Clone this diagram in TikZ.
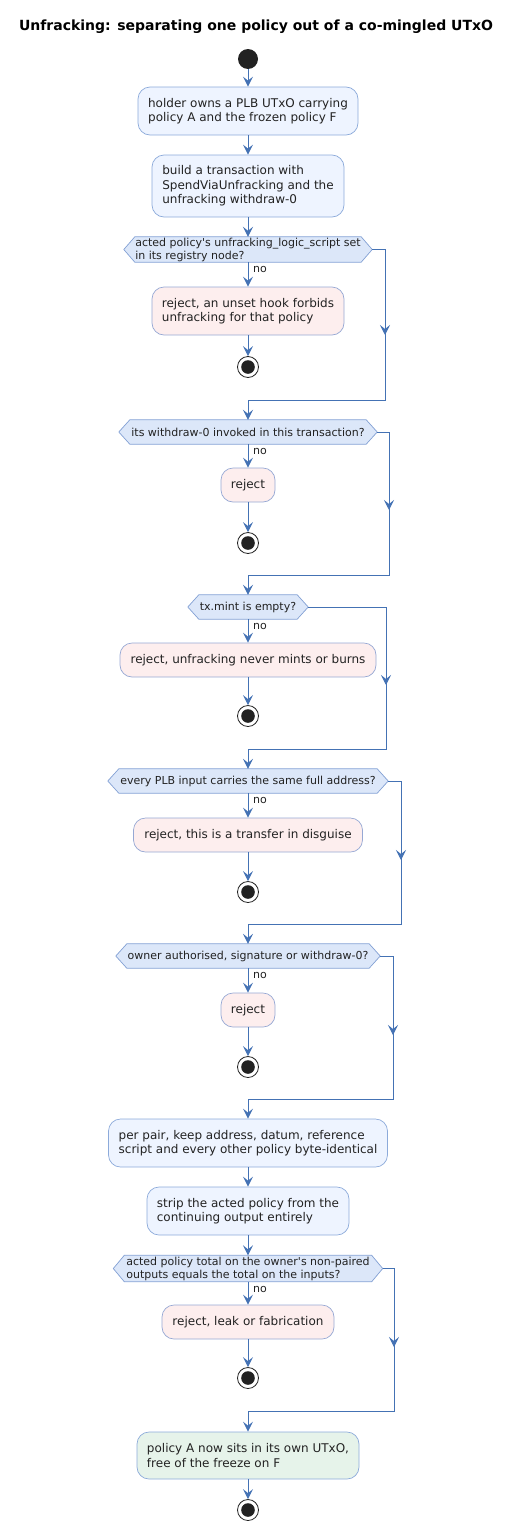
\documentclass[tikz,border=0pt]{standalone}
\usepackage{fontspec}
\setmainfont{DejaVu Sans}
\usetikzlibrary{arrows.meta,backgrounds,calc}
\definecolor{lnc}{RGB}{68,114,180}
\definecolor{actf}{RGB}{238,244,255}
\definecolor{actb}{RGB}{140,170,218}
\definecolor{rejf}{RGB}{253,238,238}
\definecolor{rejb}{RGB}{150,168,212}
\definecolor{dfill}{RGB}{220,231,249}
\definecolor{dbord}{RGB}{130,160,212}
\definecolor{okf}{RGB}{230,243,234}
\definecolor{dark}{RGB}{34,34,34}
\newcommand\hexa[1]{\begin{pgfonlayer}{background}\draw[dshape] (#1.west) -- ([xshift=11pt]#1.north west) -- ([xshift=-11pt]#1.north east) -- (#1.east) -- ([xshift=-11pt]#1.south east) -- ([xshift=11pt]#1.south west) -- cycle;\end{pgfonlayer}}
\begin{document}
\begin{tikzpicture}[x=1pt,y=-1pt,
  box/.style={rounded corners=12pt, line width=0.7pt, align=left, inner sep=0pt,
    font=\fontsize{12}{14.5}\selectfont, text=dark},
  act/.style={box, draw=actb, fill=actf},
  rej/.style={box, draw=rejb, fill=rejf},
  okb/.style={box, draw=actb, fill=okf},
  sz/.style 2 args={minimum width=#1pt, minimum height=#2pt},
  dia/.style={inner sep=0pt, align=left, font=\fontsize{11}{13}\selectfont, text=dark},
  dshape/.style={draw=dbord, fill=dfill, line width=0.7pt},
  flow/.style={draw=lnc, line width=1pt, -{Stealth[length=10pt,width=10pt,inset=4pt]}},
  seg/.style={draw=lnc, line width=1pt},
  lbl/.style={font=\fontsize{11}{13}\selectfont, text=dark, inner sep=0pt, anchor=west},
  startc/.style={circle, fill=dark, minimum size=20pt, inner sep=0pt},
  endc/.style={circle, draw=dark, fill=white, minimum size=21pt, inner sep=0pt, line width=0.8pt,
    path picture={\fill[dark] (path picture bounding box.center) circle (6.8pt);}},
]
\useasboundingbox (0,0) rectangle (514,1531);
\node[font=\fontsize{14}{16}\selectfont\bfseries, text=black] (title) at (256,27) {Unfracking: separating one policy out of a co-mingled UTxO};

\node[startc] (s0) at (248,59) {};
\node[act, sz={220}{48}] (b1) at (248,111) {holder owns a PLB UTxO carrying\\policy A and the frozen policy F};
\node[act, sz={192}{62}] (b2) at (248,186) {build a transaction with\\SpendViaUnfracking and the\\unfracking withdraw-0};

\node[dia, sz={248}{25}] (d1) at (248,249.5) {acted policy\textquotesingle s unfracking\_logic\_script set\\in its registry node?};
\hexa{d1}
\node[rej, sz={192}{48}] (r1) at (248,311) {reject, an unset hook forbids\\unfracking for that policy};
\node[endc] (e1) at (248,367) {};

\node[dia, sz={258}{24}] (d2) at (248,432) {its withdraw-0 invoked in this transaction?};
\hexa{d2}
\node[rej, sz={54}{34}] (r2) at (248,485) {reject};
\node[endc] (e2) at (248,543) {};

\node[dia, sz={120}{24}] (d3) at (248,607) {tx.mint is empty?};
\hexa{d3}
\node[rej, sz={256}{34}] (r3) at (248,660) {reject, unfracking never mints or burns};
\node[endc] (e3) at (248,716) {};

\node[dia, sz={280}{24}] (d4) at (248,781) {every PLB input carries the same full address?};
\hexa{d4}
\node[rej, sz={229}{34}] (r4) at (248,835) {reject, this is a transfer in disguise};
\node[endc] (e4) at (248,892) {};

\node[dia, sz={264}{24}] (d5) at (248,956) {owner authorised, signature or withdraw-0?};
\hexa{d5}
\node[rej, sz={54}{34}] (r5) at (248,1010) {reject};
\node[endc] (e5) at (248,1067) {};

\node[act, sz={279}{48}] (b3) at (248,1143) {per pair, keep address, datum, reference\\script and every other policy byte-identical};
\node[act, sz={202}{48}] (b4) at (248,1211) {strip the acted policy from the\\continuing output entirely};

\node[dia, sz={269}{26}] (d6) at (248,1268.5) {acted policy total on the owner\textquotesingle s non-paired\\outputs equals the total on the inputs?};
\hexa{d6}
\node[rej, sz={172}{34}] (r6) at (248,1322) {reject, leak or fabrication};
\node[endc] (e6) at (248,1378) {};

\node[okb, sz={222}{47}] (b5) at (248,1455.5) {policy A now sits in its own UTxO,\\free of the freeze on F};
\node[endc] (e7) at (248,1510) {};

% main flow
\draw[flow] (s0) -- (b1);
\draw[flow] (b1) -- (b2);
\draw[flow] (b2) -- (d1);
\draw[flow] (d1) -- (r1);
\draw[flow] (r1) -- (e1);
\draw[flow] (r2) -- (e2);
\draw[flow] (d2) -- (r2);
\draw[flow] (d3) -- (r3);
\draw[flow] (r3) -- (e3);
\draw[flow] (d4) -- (r4);
\draw[flow] (r4) -- (e4);
\draw[flow] (d5) -- (r5);
\draw[flow] (r5) -- (e5);
\draw[flow] (b3) -- (b4);
\draw[flow] (b4) -- (d6);
\draw[flow] (d6) -- (r6);
\draw[flow] (r6) -- (e6);
\draw[flow] (b5) -- (e7);

% "no" labels
\foreach \d in {d1,d2,d3,d4,d5,d6}{
  \node[lbl] (no\d) at ([xshift=5pt,yshift=-7.5pt]\d.south) {no};
}

% yes branches
\coordinate (j1) at (385,400); \coordinate (m1a) at (385,320); \coordinate (m1) at (385,335);
\coordinate (j2) at (389,575); \coordinate (m2a) at (389,495); \coordinate (m2) at (389,510);
\coordinate (j3) at (386,749); \coordinate (m3a) at (386,670); \coordinate (m3) at (386,685);
\coordinate (j4) at (401,924); \coordinate (m4a) at (401,845); \coordinate (m4) at (401,860);
\coordinate (j5) at (393,1099); \coordinate (m5a) at (393,1020); \coordinate (m5) at (393,1035);
\coordinate (j6) at (394,1411); \coordinate (m6a) at (394,1332); \coordinate (m6) at (394,1347);

\draw[flow] (d1.east) -| (j1) -| (d2.north);
\draw[flow] (d2.east) -| (j2) -| (d3.north);
\draw[flow] (d3.east) -| (j3) -| (d4.north);
\draw[flow] (d4.east) -| (j4) -| (d5.north);
\draw[flow] (d5.east) -| (j5) -| (b3.north);
\draw[flow] (d6.east) -| (j6) -| (b5.north);
\foreach \i in {1,...,6}{ \draw[flow] (m\i a) -- (m\i); }
\end{tikzpicture}
\end{document}
